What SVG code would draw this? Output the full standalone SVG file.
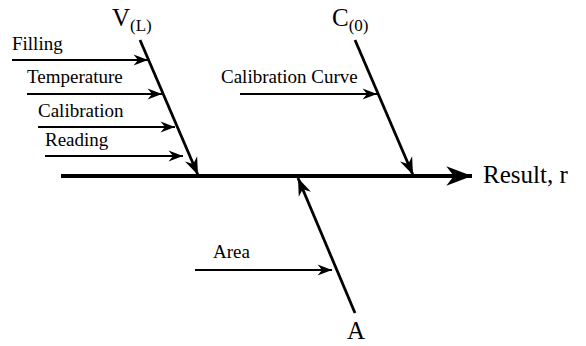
<svg xmlns="http://www.w3.org/2000/svg" width="586" height="346" viewBox="0 0 586 346" font-family="'Liberation Serif', 'Times New Roman', serif">
<defs>
<style>
text{font-family:'Liberation Serif','Times New Roman',serif;fill:#000}
.lbl{font-size:19px}
.big{font-size:25px}
.sub{font-size:17px}
.thin{stroke:#000;stroke-width:1.8;fill:none}
.diag{stroke:#000;stroke-width:2.8;fill:none}
.main{stroke:#000;stroke-width:4;fill:none}
</style>
<marker id="ah" markerUnits="userSpaceOnUse" markerWidth="20" markerHeight="20" viewBox="-16 -8 18 16" refX="0" refY="0" orient="auto">
<path d="M0,0 L-13,-5 L-9,0 L-13,5 Z" fill="#000"/>
</marker>
<marker id="ahd" markerUnits="userSpaceOnUse" markerWidth="22" markerHeight="22" viewBox="-18 -9 20 18" refX="0" refY="0" orient="auto">
<path d="M0,0 L-16,-6 L-11,0 L-16,6 Z" fill="#000"/>
</marker>
<marker id="ahm" markerUnits="userSpaceOnUse" markerWidth="30" markerHeight="30" viewBox="-26 -12 28 24" refX="0" refY="0" orient="auto">
<path d="M0,0 L-24,-9 L-17,0 L-24,9 Z" fill="#000"/>
</marker>
</defs>
<g id="connectors">
<line class="main" x1="61" y1="176" x2="472" y2="176" marker-end="url(#ahm)"/>
<line class="diag" x1="140" y1="40" x2="198" y2="175" marker-end="url(#ahd)"/>
<line class="diag" x1="355" y1="40" x2="413" y2="175" marker-end="url(#ahd)"/>
<line class="diag" x1="355" y1="313" x2="298" y2="178" marker-end="url(#ahd)"/>
<line class="thin" x1="12" y1="60" x2="148" y2="60" marker-end="url(#ah)"/>
<line class="thin" x1="27" y1="94" x2="162" y2="94" marker-end="url(#ah)"/>
<line class="thin" x1="38" y1="127" x2="175" y2="127" marker-end="url(#ah)"/>
<line class="thin" x1="45" y1="156" x2="183" y2="156" marker-end="url(#ah)"/>
<line class="thin" x1="240" y1="94" x2="377" y2="94" marker-end="url(#ah)"/>
<line class="thin" x1="195" y1="270" x2="332" y2="270" marker-end="url(#ah)"/>
</g>
<g id="node-V"><text class="big" x="112" y="26">V<tspan class="sub" dy="5">(L)</tspan></text></g>
<g id="node-C"><text class="big" x="332" y="26">C<tspan class="sub" dy="5">(0)</tspan></text></g>
<g id="node-A"><text class="big" x="347" y="339">A</text></g>
<g id="node-result"><text class="big" x="483" y="183">Result, r</text></g>
<g id="node-filling"><text class="lbl" x="12" y="50">Filling</text></g>
<g id="node-temperature"><text class="lbl" x="27" y="83">Temperature</text></g>
<g id="node-calibration"><text class="lbl" x="38" y="117">Calibration</text></g>
<g id="node-reading"><text class="lbl" x="45" y="146">Reading</text></g>
<g id="node-calcurve"><text class="lbl" x="221" y="83">Calibration Curve</text></g>
<g id="node-area"><text class="lbl" x="213" y="258">Area</text></g>
</svg>
